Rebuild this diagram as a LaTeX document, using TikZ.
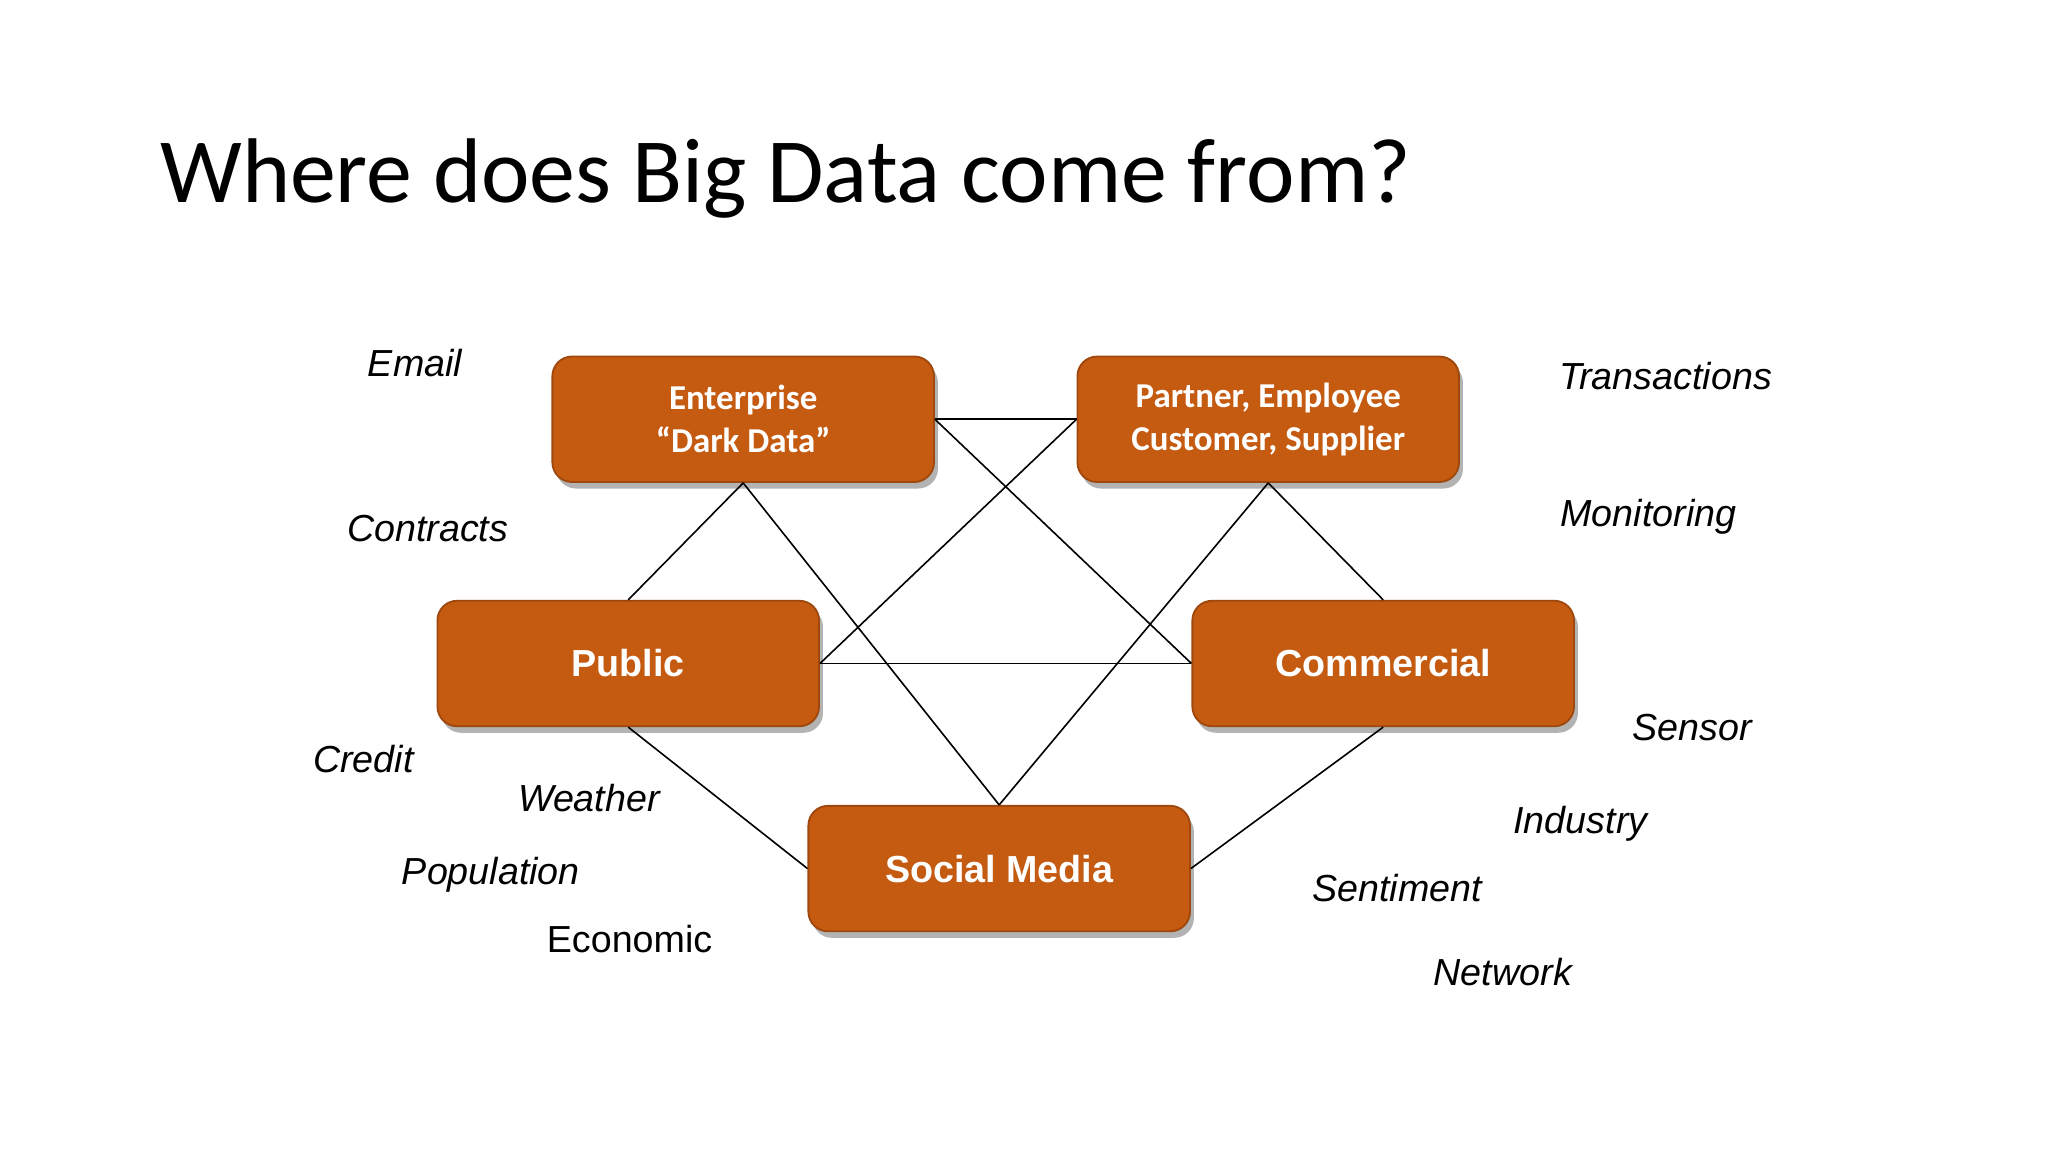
\documentclass[tikz,border=0pt]{standalone}
\usepackage{fontspec}
\setmainfont{Liberation Sans}
\newfontfamily\calib{Carlito}
\usetikzlibrary{shadows}
\definecolor{boxorange}{HTML}{C55A11}
\begin{document}
\begin{tikzpicture}[x=0.01cm,y=-0.01cm,
  srcbox/.style={draw=boxorange!80!black,fill=boxorange,rounded corners=1.5mm,minimum width=2.92cm,minimum height=0.96cm,text=white,align=center,inner sep=0pt,drop shadow={shadow xshift=0.3mm,shadow yshift=-0.5mm,opacity=0.6}},
  calbox/.style={srcbox,font=\calib\bfseries\fontsize{7.6}{9.4}\selectfont},
  arbox/.style={srcbox,font=\bfseries\fontsize{8.2}{10}\selectfont},
  lab/.style={anchor=west,inner sep=0pt,font=\itshape\fontsize{8.2}{10}\selectfont},
  link/.style={draw=black,line width=0.35pt}]
\useasboundingbox (0,0) rectangle (1568,882);
\node[anchor=base west,inner sep=0pt,font=\calib\fontsize{20}{24}\selectfont] (title) at (122,155) {Where does Big Data come from?};
\node[calbox] (ent) at (569,321) {Enterprise\\“Dark Data”};
\node[calbox] (par) at (971,321) {Partner, Employee\\Customer, Supplier};
\node[arbox] (pub) at (481,508) {Public};
\node[arbox] (com) at (1059,508) {Commercial};
\node[arbox] (soc) at (765,665) {Social Media};
\draw[link] (ent.east) -- (par.west);
\draw[link] (ent.south) -- (pub.north);
\draw[link] (ent.south) -- (soc.north);
\draw[link] (ent.east) -- (com.west);
\draw[link] (par.west) -- (pub.east);
\draw[link] (par.south) -- (soc.north);
\draw[link] (par.south) -- (com.north);
\draw[link] (pub.east) -- (com.west);
\draw[link] (pub.south) -- (soc.west);
\draw[link] (com.south) -- (soc.east);
\node[lab] (l1) at (281,278) {Email};
\node[lab] (l2) at (265,405) {Contracts};
\node[lab] (l3) at (239,581) {Credit};
\node[lab] (l4) at (396,611) {Weather};
\node[lab] (l5) at (307,670) {Population};
\node[lab,font=\fontsize{8.2}{10}\selectfont] (l6) at (418,719) {Economic};
\node[lab] (l7) at (1193,288) {Transactions};
\node[lab] (l8) at (1194,396) {Monitoring};
\node[lab] (l9) at (1249,557) {Sensor};
\node[lab] (l10) at (1158,631) {Industry};
\node[lab] (l11) at (1004,680) {Sentiment};
\node[lab] (l12) at (1097,744) {Network};
\end{tikzpicture}
\end{document}
